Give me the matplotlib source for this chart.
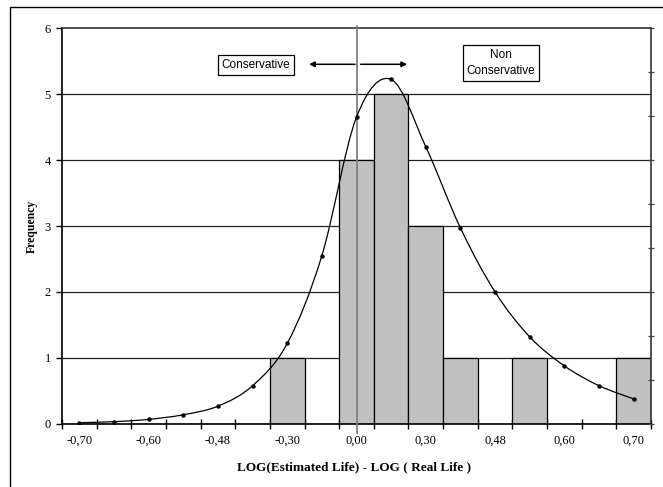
import matplotlib
matplotlib.use('Agg')
import matplotlib.pyplot as plt
from matplotlib.path import Path
from matplotlib.patches import PathPatch, Rectangle
import numpy as np

# 17 class intervals, Excel shows the label of every second one
tick_labels = ['-0,70', '-0,60', '-0,48', '-0,30', '0,00', '0,30', '0,48', '0,60', '0,70']
frequency = [0, 0, 0, 0, 0, 0, 1, 0, 4, 5, 3, 1, 0, 1, 0, 0, 1]
fitted = [0.02, 0.035, 0.07, 0.14, 0.27, 0.58, 1.22, 2.55, 4.65, 5.22,
          4.2, 2.97, 2.0, 1.32, 0.88, 0.58, 0.38]

serif = 'Liberation Serif'
sans = 'Liberation Sans'

fig = plt.figure(figsize=(6.63, 4.87), dpi=100)
ax = fig.add_axes([62 / 663, 63 / 487, 589 / 663, 396 / 487])

x = np.arange(len(frequency))

# histogram bars, no gap between classes
ax.bar(x, frequency, width=1.0, color='#c0c0c0', edgecolor='black',
       linewidth=0.9, zorder=2)

# horizontal gridlines behind the bars
for yv in range(1, 6):
    ax.axhline(yv, color='#222222', linewidth=0.9, zorder=1)

# smoothed fitted curve (bezier through the points, like excel smoothing)
pts = np.column_stack([x, fitted]).astype(float)
verts = [pts[0]]
codes = [Path.MOVETO]
n = len(pts)
for i in range(n - 1):
    p0 = pts[i - 1] if i > 0 else pts[i]
    p1 = pts[i]
    p2 = pts[i + 1]
    p3 = pts[i + 2] if i + 2 < n else pts[i + 1]
    c1 = p1 + (p2 - p0) / 6.0
    c2 = p2 - (p3 - p1) / 6.0
    verts += [c1, c2, p2]
    codes += [Path.CURVE4] * 3
ax.add_patch(PathPatch(Path(verts, codes), fill=False, edgecolor='black',
                       linewidth=0.9, zorder=4))
ax.plot(x, fitted, linestyle='none', marker='o', markersize=2.2,
        color='black', zorder=5)

# zero reference line
ax.plot([8, 8], [6.03, -0.14], color='#808080', linewidth=1.3,
        zorder=3, clip_on=False)

# arrows
ax.annotate('', xy=(6.63, 5.45), xytext=(7.96, 5.45),
            arrowprops=dict(arrowstyle='-|>', color='black', lw=1.1,
                            mutation_scale=8, shrinkA=0, shrinkB=0))
ax.annotate('', xy=(9.46, 5.45), xytext=(8.12, 5.45),
            arrowprops=dict(arrowstyle='-|>', color='black', lw=1.1,
                            mutation_scale=8, shrinkA=0, shrinkB=0))

ax.text(5.10, 5.44, 'Conservative', family=sans, fontsize=8.5,
        ha='center', va='center', zorder=6,
        bbox=dict(boxstyle='square,pad=0.3', facecolor='white',
                  edgecolor='black', linewidth=0.9))
ax.text(12.17, 5.47, 'Non\nConservative', family=sans, fontsize=8.5,
        ha='center', va='center', zorder=6, linespacing=1.5,
        bbox=dict(boxstyle='square,pad=0.3', facecolor='white',
                  edgecolor='black', linewidth=0.9))

ax.set_xlim(-0.5, 16.5)
ax.set_ylim(0, 6)

# x axis: ticks between classes, labels on every second class
ax.set_xticks(np.arange(-0.5, 17, 1.0))
ax.set_xticklabels([])
ax.tick_params(axis='x', which='major', direction='inout', length=7,
               width=1.0, color='black')
ax.set_xticks(x[::2], minor=True)
ax.set_xticklabels(tick_labels, minor=True, family=serif, fontsize=9)
ax.tick_params(axis='x', which='minor', length=0, pad=8)

ax.set_yticks(range(0, 7))
ax.set_yticklabels([str(v) for v in range(0, 7)], family=serif, fontsize=9)
ax.tick_params(axis='y', direction='out', length=4, width=1.0, pad=4)

for side in ['left', 'bottom', 'top', 'right']:
    ax.spines[side].set_linewidth(1.2)
    ax.spines[side].set_color('black')
ax.spines['top'].set_color('#333333')
ax.spines['right'].set_color('#333333')

# secondary axis on the right: tick marks only
ax2 = ax.twinx()
ax2.set_ylim(0, 9)
ax2.set_yticks(range(0, 10))
ax2.set_yticklabels([])
ax2.tick_params(axis='y', direction='inout', length=4, width=0.9,
                color='#444444')
for side in ['left', 'bottom', 'top', 'right']:
    ax2.spines[side].set_visible(False)

fig.text(32 / 663, 1 - 226 / 487, 'Frequency', rotation=90, family=serif,
         fontweight='bold', fontsize=8.5, ha='center', va='center')
fig.text(354 / 663, 1 - 467 / 487, 'LOG(Estimated Life) - LOG ( Real Life )',
         family=serif, fontweight='bold', fontsize=9.5, ha='center', va='center')

# chart area border (runs off the right and bottom of the picture)
fig.add_artist(Rectangle((10 / 663, -0.1), 1.0, 0.1 + (487 - 7) / 487,
                         transform=fig.transFigure, fill=False,
                         edgecolor='black', linewidth=1.0))

fig.savefig('out.png', dpi=100)
